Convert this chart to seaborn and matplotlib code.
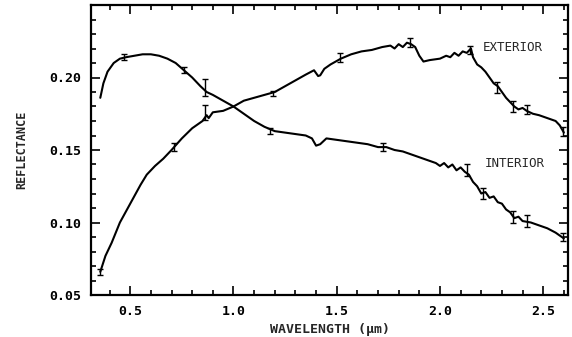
import numpy as np
import pandas as pd
import matplotlib
matplotlib.use("Agg")
import matplotlib.pyplot as plt
import seaborn as sns
from matplotlib.ticker import MultipleLocator

# ---- data ----
ext_x = [0.355, 0.38, 0.41, 0.45, 0.50, 0.55, 0.58, 0.62, 0.66, 0.70, 0.75, 0.80, 0.85, 0.87, 0.88,
         0.90, 0.95, 1.00, 1.05, 1.10, 1.15, 1.20, 1.25, 1.30, 1.35, 1.39, 1.41, 1.42, 1.44,
         1.47, 1.52, 1.57, 1.62, 1.67, 1.72, 1.76, 1.78, 1.80, 1.82, 1.84, 1.86, 1.88, 1.90,
         1.92, 1.95, 2.00, 2.03, 2.05, 2.07, 2.09, 2.11, 2.13, 2.15, 2.16, 2.18, 2.20, 2.22,
         2.24, 2.26, 2.28, 2.30, 2.32, 2.34, 2.36, 2.38, 2.40, 2.42, 2.45, 2.48, 2.52, 2.56,
         2.58, 2.60]
ext_y = [0.066, 0.077, 0.086, 0.100, 0.113, 0.126, 0.133, 0.139, 0.144, 0.150, 0.158, 0.165, 0.170,
         0.174, 0.172, 0.176, 0.177, 0.180, 0.184, 0.186, 0.188, 0.190, 0.194, 0.198, 0.202,
         0.205, 0.201, 0.2015, 0.206, 0.209, 0.213, 0.216, 0.218, 0.219, 0.221, 0.222, 0.220,
         0.223, 0.221, 0.224, 0.223, 0.221, 0.215, 0.211, 0.212, 0.213, 0.215, 0.214, 0.217,
         0.215, 0.218, 0.217, 0.220, 0.214, 0.209, 0.207, 0.204, 0.200, 0.196, 0.194, 0.190,
         0.186, 0.183, 0.180, 0.178, 0.179, 0.177, 0.175, 0.174, 0.172, 0.170, 0.167, 0.162]

int_x = [0.355, 0.37, 0.39, 0.42, 0.45, 0.48, 0.52, 0.56, 0.60, 0.64, 0.68, 0.72, 0.76, 0.80,
         0.84, 0.87, 0.90, 0.95, 1.00, 1.05, 1.10, 1.15, 1.20, 1.25, 1.30, 1.35, 1.38, 1.40,
         1.42, 1.45, 1.50, 1.55, 1.60, 1.65, 1.70, 1.74, 1.78, 1.82, 1.86, 1.90, 1.94, 1.98,
         2.00, 2.02, 2.04, 2.06, 2.08, 2.10, 2.12, 2.14, 2.16, 2.18, 2.20, 2.22, 2.24, 2.26,
         2.28, 2.30, 2.32, 2.34, 2.36, 2.38, 2.40, 2.44, 2.48, 2.52, 2.56, 2.60]
int_y = [0.186, 0.196, 0.204, 0.210, 0.213, 0.214, 0.215, 0.216, 0.216, 0.215, 0.213, 0.210,
         0.205, 0.200, 0.194, 0.190, 0.188, 0.184, 0.180, 0.175, 0.170, 0.166, 0.163, 0.162,
         0.161, 0.160, 0.158, 0.153, 0.154, 0.158, 0.157, 0.156, 0.155, 0.154, 0.152, 0.152,
         0.150, 0.149, 0.147, 0.145, 0.143, 0.141, 0.139, 0.141, 0.138, 0.140, 0.136, 0.138,
         0.135, 0.133, 0.128, 0.125, 0.120, 0.121, 0.117, 0.118, 0.114, 0.113, 0.109, 0.107,
         0.103, 0.104, 0.101, 0.100, 0.098, 0.096, 0.093, 0.089]

# error bars (position, value, half-length)
ext_err_x = [0.355, 0.71, 0.863, 1.19, 1.516, 1.855, 2.146, 2.274, 2.355, 2.42, 2.597]
ext_err_y = [0.066, 0.152, 0.176, 0.189, 0.214, 0.224, 0.219, 0.193, 0.180, 0.178, 0.163]
ext_err_e = [0.002, 0.003, 0.005, 0.002, 0.003, 0.003, 0.003, 0.004, 0.004, 0.003, 0.003]
int_err_x = [0.468, 0.758, 0.863, 1.177, 1.726, 2.13, 2.21, 2.355, 2.42, 2.597]
int_err_y = [0.214, 0.205, 0.193, 0.163, 0.152, 0.136, 0.120, 0.104, 0.101, 0.090]
int_err_e = [0.002, 0.002, 0.006, 0.002, 0.003, 0.004, 0.004, 0.004, 0.004, 0.003]

series_names = ["EXTERIOR", "INTERIOR"]
x_ticks = [0.5, 1.0, 1.5, 2.0, 2.5]
x_tick_labels = ["0.5", "1.0", "1.5", "2.0", "2.5"]
y_ticks = [0.05, 0.10, 0.15, 0.20]
y_tick_labels = ["0.05", "0.10", "0.15", "0.20"]

df = pd.concat([
    pd.DataFrame({"wl": ext_x, "refl": ext_y, "sample": series_names[0]}),
    pd.DataFrame({"wl": int_x, "refl": int_y, "sample": series_names[1]}),
], ignore_index=True)

sns.set_theme(style="ticks")
FONT = ["DejaVu Sans Mono"]
plt.rcParams["font.family"] = FONT
plt.rcParams["font.weight"] = "bold"

fig = plt.figure(figsize=(5.72, 3.37), dpi=100)
ax = fig.add_axes([91 / 572, 42 / 337, (568 - 91) / 572, (295 - 5) / 337])

sns.lineplot(data=df, x="wl", y="refl", hue="sample", units="sample", estimator=None,
             palette=["black", "black"], linewidth=1.5, legend=False, sort=False, ax=ax)

for xs, ys, es in [(ext_err_x, ext_err_y, ext_err_e), (int_err_x, int_err_y, int_err_e)]:
    ax.errorbar(xs, ys, yerr=es, fmt="none", ecolor="black", elinewidth=1.0,
                capsize=2, capthick=1.0)

ax.set_xlim(0.31, 2.62)
ax.set_ylim(0.05, 0.25)
ax.set_xticks(x_ticks)
ax.set_xticklabels(x_tick_labels)
ax.set_yticks(y_ticks)
ax.set_yticklabels(y_tick_labels)
ax.xaxis.set_minor_locator(MultipleLocator(0.1))
ax.yaxis.set_minor_locator(MultipleLocator(0.01))
ax.tick_params(which="both", direction="in", top=True, right=True, width=1.2,
               colors="black", labelsize=9.5)
ax.tick_params(which="major", length=6.5, pad=7)
ax.tick_params(which="minor", length=3.5)
for s in ax.spines.values():
    s.set_linewidth(1.6)
    s.set_color("black")

ax.set_xlabel("WAVELENGTH (\u03bcm)", fontsize=9.5, fontweight="bold", labelpad=4)
ax.set_ylabel("REFLECTANCE", fontsize=8.5, fontweight="bold", labelpad=15)

ax.text(2.208, 0.2207, series_names[0], fontsize=9, fontweight="normal", va="center", ha="left")
ax.text(2.218, 0.1407, series_names[1], fontsize=9, fontweight="normal", va="center", ha="left")

fig.savefig("out.png", dpi=100, facecolor="white")
